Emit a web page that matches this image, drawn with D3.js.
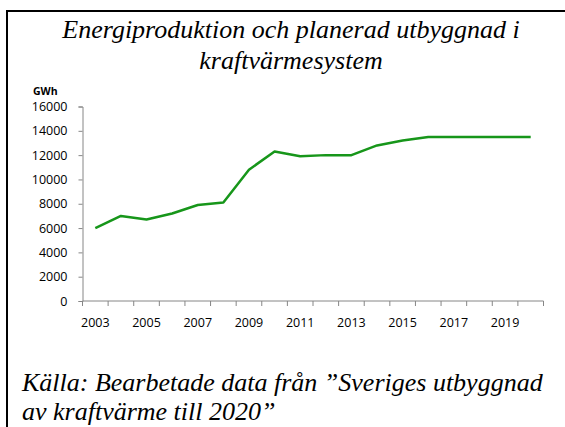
<!DOCTYPE html>
<meta charset="utf-8">
<script src="https://d3js.org/d3.v7.min.js"></script>
<style>
  body { margin: 0; background: #fff; }
  svg { display: block; }
  .serif { font-family: "Liberation Serif", "Times New Roman", serif; font-style: italic; font-size: 26px; }
  .sans { font-family: "Open Sans", sans-serif; }
</style>
<body>
<svg width="565" height="427"></svg>
<script>
  // chart data
  var years = [2003, 2004, 2005, 2006, 2007, 2008, 2009, 2010, 2011, 2012,
               2013, 2014, 2015, 2016, 2017, 2018, 2019, 2020];
  var gwh = [6000, 7000, 6700, 7200, 7900, 8100, 10800, 12300, 11900, 12000,
             12000, 12800, 13200, 13500, 13500, 13500, 13500, 13500];
  var yTicks = [0, 2000, 4000, 6000, 8000, 10000, 12000, 14000, 16000];
  var titleLines = ["Energiproduktion och planerad utbyggnad i", "kraftvärmesystem"];
  var sourceLines = ["Källa: Bearbetade data från ”Sveriges utbyggnad", "av kraftvärme till 2020”"];

  var svg = d3.select("svg");
  var axisColor = "#868686";

  // frame (only left and top edges fall inside the picture)
  svg.append("path")
    .attr("d", "M7,430 L7,11 L570,11")
    .attr("fill", "none")
    .attr("stroke", "#000")
    .attr("stroke-width", 2);

  // title
  svg.append("g").selectAll("text")
    .data(titleLines)
    .enter().append("text")
    .attr("class", "serif")
    .attr("x", 291)
    .attr("y", function (d, i) { return 38 + i * 31; })
    .attr("text-anchor", "middle")
    .text(function (d) { return d; });

  // scales
  var x = d3.scaleBand()
    .domain(years)
    .range([82.5, 543.5]);

  var y = d3.scaleLinear()
    .domain([0, 16000])
    .range([301, 106.5]);

  // y axis
  var yAxis = svg.append("g")
    .attr("transform", "translate(82.5,0)")
    .call(d3.axisLeft(y).tickValues(yTicks).tickSize(4).tickPadding(11).tickFormat(d3.format("d")));
  yAxis.select(".domain").attr("stroke", axisColor);
  yAxis.selectAll(".tick line").attr("stroke", axisColor);
  yAxis.selectAll("text")
    .attr("class", "sans")
    .attr("fill", "#000")
    .style("font-size", "12.5px");

  // x axis: ticks between categories, labels on odd years
  var xAxis = svg.append("g")
    .attr("transform", "translate(0,301)");
  xAxis.append("line")
    .attr("x1", x.range()[0]).attr("x2", x.range()[1])
    .attr("y1", 0).attr("y2", 0)
    .attr("stroke", axisColor);
  var bounds = years.map(function (d) { return x(d); }).concat([x.range()[1]]);
  xAxis.selectAll("line.tk")
    .data(bounds)
    .enter().append("line")
    .attr("class", "tk")
    .attr("x1", function (d) { return d; })
    .attr("x2", function (d) { return d; })
    .attr("y1", 0).attr("y2", 5)
    .attr("stroke", axisColor);
  xAxis.selectAll("text")
    .data(years.filter(function (d, i) { return i % 2 === 0; }))
    .enter().append("text")
    .attr("class", "sans")
    .attr("x", function (d) { return x(d) + x.bandwidth() / 2; })
    .attr("y", 26)
    .attr("text-anchor", "middle")
    .style("font-size", "12.5px")
    .text(function (d) { return d; });

  // unit label
  svg.append("text")
    .attr("class", "sans")
    .attr("x", 33)
    .attr("y", 95)
    .style("font-weight", "bold")
    .style("font-size", "10.5px")
    .text("GWh");

  // the series
  var line = d3.line()
    .x(function (d, i) { return x(years[i]) + x.bandwidth() / 2; })
    .y(function (d) { return y(d); });

  svg.append("path")
    .datum(gwh)
    .attr("d", line)
    .attr("fill", "none")
    .attr("stroke", "#17961a")
    .attr("stroke-width", 2.5)
    .attr("stroke-linejoin", "round");

  // source note
  svg.append("g").selectAll("text")
    .data(sourceLines)
    .enter().append("text")
    .attr("class", "serif")
    .attr("x", 22)
    .attr("y", function (d, i) { return 391 + i * 29; })
    .text(function (d) { return d; });
</script>
</body>
